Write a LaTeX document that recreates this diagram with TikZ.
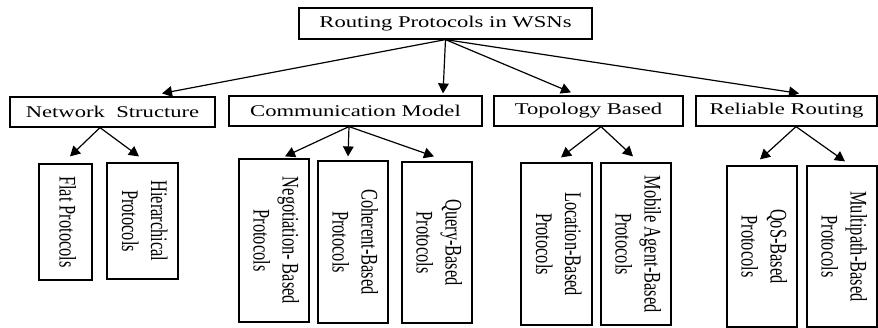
\documentclass[tikz,border=0pt]{standalone}
\usepackage{fontspec}
\setmainfont{Liberation Serif}
\usepackage{graphicx}
\usetikzlibrary{arrows.meta,calc}
\newcommand\hstr[1]{\scalebox{1.38}[1]{#1}}
\newcommand\vstr[1]{\rotatebox{-90}{\scalebox{1}[1.45]{\begin{tabular}{@{}c@{}}#1\end{tabular}}}}
\begin{document}
\begin{tikzpicture}[x=0.75pt,y=-0.75pt,
  box/.style={draw, line width=0.9pt, inner sep=0pt, font=\fontsize{12.3}{15}\selectfont},
  arr/.style={line width=0.9pt, -{Triangle[length=7.5pt,width=8pt]}}]
\useasboundingbox (0,0) rectangle (878,328);
% level 1
\node[box, minimum width=219.75pt, minimum height=23.25pt] (top) at (445.5,23.5) {\hstr{Routing Protocols in WSNs}};
% level 2
\node[box, minimum width=153.75pt, minimum height=22.5pt] (ns) at (112.5,112) {\hstr{Network~ Structure}};
\node[box, minimum width=189.75pt, minimum height=22.5pt] (cm) at (355.5,111) {\hstr{Communication Model}};
\node[box, minimum width=141.75pt, minimum height=22.5pt] (tb) at (588.5,111) {\hstr{Topology Based}};
\node[box, minimum width=135.75pt, minimum height=22.5pt] (rr) at (786.5,111) {\hstr{Reliable Routing}};
% level 3
\node[box, minimum width=39.75pt, minimum height=87pt] (flat) at (65.5,222) {\vstr{Flat Protocols}};
\node[box, minimum width=53.25pt, minimum height=87pt] (hier) at (142.5,221) {\vstr{Hierarchical\\Protocols}};
\node[box, minimum width=52.5pt, minimum height=122.25pt] (neg) at (274,240.5) {\vstr{Negotiation- Based\\Protocols}};
\node[box, minimum width=52.5pt, minimum height=121.5pt] (coh) at (353,242) {\vstr{Coherent-Based\\Protocols}};
\node[box, minimum width=52.5pt, minimum height=120.75pt] (query) at (437,242.5) {\vstr{Query-Based\\Protocols}};
\node[box, minimum width=53.25pt, minimum height=121.5pt] (loc) at (556.5,244) {\vstr{Location-Based\\Protocols}};
\node[box, minimum width=52.5pt, minimum height=121.5pt] (mob) at (636,244) {\vstr{Mobile Agent-Based\\Protocols}};
\node[box, minimum width=52.5pt, minimum height=120.75pt] (qos) at (762,246.5) {\vstr{QoS-Based\\Protocols}};
\node[box, minimum width=52.5pt, minimum height=120.75pt] (multi) at (842,246.5) {\vstr{Multipath-Based\\Protocols}};
% arrows level 1 -> 2
\draw[arr] (top.south) -- ($(ns.north)+(49.5,-3)$);
\draw[arr] (top.south) -- ($(cm.north)+(87.5,-2)$);
\draw[arr] (top.south) -- ($(tb.north)+(-17.5,-3)$);
\draw[arr] (top.south) -- ($(rr.north)+(12.5,-2)$);
% arrows level 2 -> 3
\draw[arr] ($(ns.south)+(-12.5,0)$) -- ($(flat.north)+(4.5,-7)$);
\draw[arr] ($(ns.south)+(-12.5,0)$) -- ($(hier.north)+(-3.5,-6)$);
\draw[arr] ($(cm.south)+(-6.5,0)$) -- ($(neg.north)+(11,-2)$);
\draw[arr] ($(cm.south)+(-6.5,0)$) -- ($(coh.north)+(-5,-4)$);
\draw[arr] ($(cm.south)+(-6.5,0)$) -- ($(query.north)+(-3,-5)$);
\draw[arr] ($(tb.south)+(12.5,0)$) -- ($(loc.north)+(4.5,-5)$);
\draw[arr] ($(tb.south)+(12.5,0)$) -- ($(mob.north)+(-3,-6)$);
\draw[arr] ($(rr.south)+(9.5,0)$) -- ($(qos.north)+(-2,-6)$);
\draw[arr] ($(rr.south)+(9.5,0)$) -- ($(multi.north)+(3,-4)$);
\end{tikzpicture}
\end{document}
